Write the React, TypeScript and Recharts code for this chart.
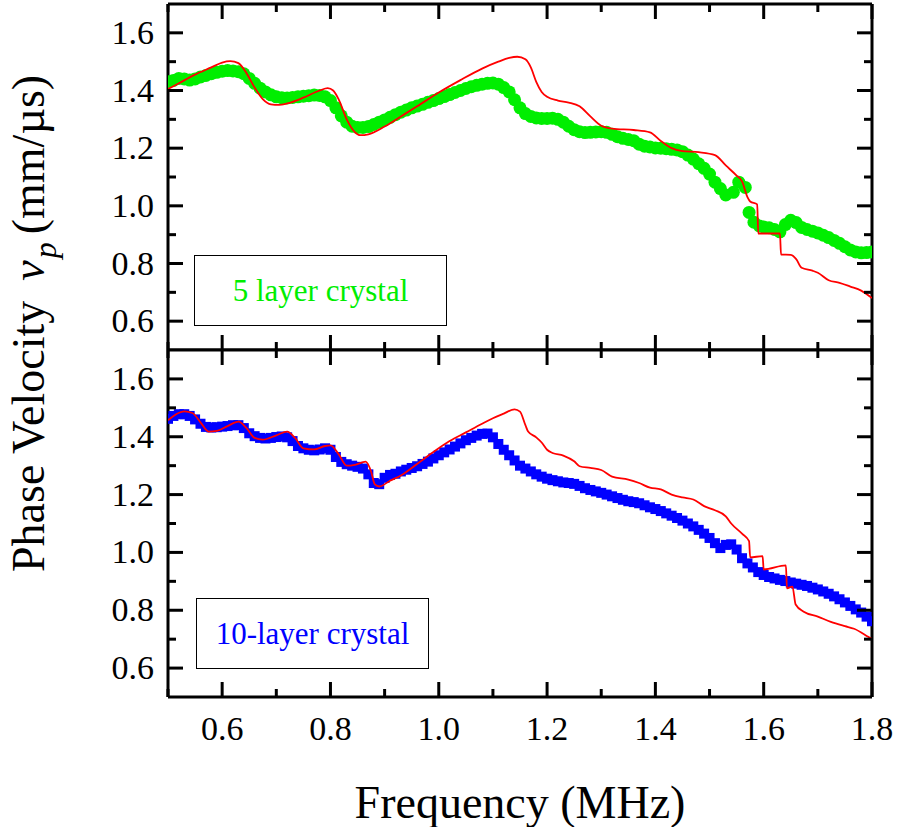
import React from 'react'
import { ComposedChart, Line, Scatter, XAxis, YAxis } from 'recharts'

const FONT = '"Liberation Serif", "Times New Roman", Times, serif'

// tick positions (every 0.1; even tenths are major and labelled)
const X_TICKS = [0.5, 0.6, 0.7, 0.8, 0.9, 1.0, 1.1, 1.2, 1.3, 1.4, 1.5, 1.6, 1.7, 1.8]
const Y_TICKS = [0.6, 0.7, 0.8, 0.9, 1.0, 1.1, 1.2, 1.3, 1.4, 1.5, 1.6]

// 5 layer crystal: measured [frequency MHz, phase velocity mm/us]
const measured5: [number, number][] = [
  [0.50, 1.430], [0.51, 1.435], [0.52, 1.442], [0.53, 1.440], [0.54, 1.436], [0.55, 1.440],
  [0.56, 1.447], [0.57, 1.452], [0.58, 1.458], [0.59, 1.463], [0.60, 1.467], [0.61, 1.469],
  [0.62, 1.468], [0.63, 1.465], [0.64, 1.458], [0.65, 1.442], [0.66, 1.425], [0.67, 1.408],
  [0.68, 1.395], [0.69, 1.385], [0.70, 1.378], [0.71, 1.375], [0.72, 1.374], [0.73, 1.376],
  [0.74, 1.378], [0.75, 1.380], [0.76, 1.382], [0.77, 1.384], [0.78, 1.383], [0.79, 1.378],
  [0.80, 1.365], [0.81, 1.340], [0.82, 1.312], [0.83, 1.290], [0.84, 1.276], [0.85, 1.272],
  [0.86, 1.272], [0.87, 1.275], [0.88, 1.282], [0.89, 1.290], [0.90, 1.298], [0.91, 1.307],
  [0.92, 1.316], [0.93, 1.325], [0.94, 1.332], [0.95, 1.340], [0.96, 1.346], [0.97, 1.352],
  [0.98, 1.359], [0.99, 1.365], [1.00, 1.372], [1.01, 1.379], [1.02, 1.386], [1.03, 1.393],
  [1.04, 1.400], [1.05, 1.407], [1.06, 1.413], [1.07, 1.418], [1.08, 1.422], [1.09, 1.425],
  [1.10, 1.426], [1.11, 1.422], [1.12, 1.410], [1.13, 1.395], [1.14, 1.368], [1.15, 1.340],
  [1.16, 1.320], [1.17, 1.310], [1.18, 1.305], [1.19, 1.303], [1.20, 1.303], [1.21, 1.304],
  [1.22, 1.300], [1.23, 1.290], [1.24, 1.276], [1.25, 1.264], [1.26, 1.257], [1.27, 1.254],
  [1.28, 1.255], [1.29, 1.256], [1.30, 1.257], [1.31, 1.255], [1.32, 1.248], [1.33, 1.240],
  [1.34, 1.234], [1.35, 1.230], [1.36, 1.226], [1.37, 1.214], [1.38, 1.207], [1.39, 1.204],
  [1.40, 1.201], [1.41, 1.200], [1.42, 1.198], [1.43, 1.196], [1.44, 1.194], [1.45, 1.188],
  [1.46, 1.176], [1.47, 1.162], [1.48, 1.146], [1.49, 1.130], [1.50, 1.110], [1.51, 1.082],
  [1.52, 1.060], [1.53, 1.038], [1.544, 1.047], [1.554, 1.082], [1.566, 1.064], [1.573, 0.977],
  [1.582, 0.943], [1.592, 0.930], [1.60, 0.927], [1.61, 0.924], [1.62, 0.918], [1.63, 0.910],
  [1.64, 0.935], [1.65, 0.950], [1.66, 0.942], [1.67, 0.925], [1.68, 0.918], [1.69, 0.912],
  [1.70, 0.906], [1.71, 0.898], [1.72, 0.890], [1.73, 0.880], [1.74, 0.870], [1.75, 0.858],
  [1.76, 0.847], [1.77, 0.840], [1.78, 0.837], [1.79, 0.838], [1.80, 0.840],
]

// 5 layer crystal: model curve
const model5: [number, number][] = [
  [0.50, 1.405], [0.52, 1.425], [0.55, 1.455], [0.58, 1.480], [0.60, 1.497], [0.615, 1.502],
  [0.63, 1.495], [0.645, 1.460], [0.66, 1.410], [0.675, 1.370], [0.69, 1.352], [0.705, 1.350],
  [0.72, 1.355], [0.75, 1.375], [0.78, 1.400], [0.795, 1.408], [0.805, 1.400], [0.815, 1.370],
  [0.83, 1.300], [0.845, 1.256], [0.855, 1.245], [0.87, 1.248], [0.90, 1.275], [0.93, 1.310],
  [0.96, 1.345], [1.00, 1.393], [1.04, 1.436], [1.08, 1.476], [1.11, 1.500], [1.13, 1.513],
  [1.145, 1.517], [1.16, 1.508], [1.17, 1.480], [1.18, 1.430], [1.19, 1.395], [1.20, 1.378],
  [1.22, 1.365], [1.24, 1.358], [1.26, 1.345], [1.28, 1.310], [1.30, 1.278], [1.32, 1.268],
  [1.36, 1.263], [1.39, 1.255], [1.41, 1.225], [1.43, 1.200], [1.45, 1.190], [1.48, 1.186],
  [1.51, 1.176], [1.53, 1.140], [1.55, 1.105], [1.56, 1.085], [1.57, 1.030], [1.575, 1.015],
  [1.588, 1.005], [1.590, 0.904], [1.630, 0.904], [1.632, 0.831], [1.650, 0.830], [1.660, 0.815],
  [1.670, 0.785], [1.69, 0.775], [1.70, 0.768], [1.72, 0.742], [1.74, 0.733], [1.76, 0.720],
  [1.78, 0.706], [1.80, 0.680],
]

// 10-layer crystal: measured
const measured10: [number, number][] = [
  [0.50, 1.462], [0.51, 1.472], [0.52, 1.478], [0.53, 1.478], [0.54, 1.472], [0.55, 1.460],
  [0.56, 1.445], [0.57, 1.434], [0.58, 1.432], [0.59, 1.433], [0.60, 1.435], [0.61, 1.437],
  [0.62, 1.440], [0.63, 1.440], [0.64, 1.430], [0.65, 1.412], [0.66, 1.402], [0.67, 1.396],
  [0.68, 1.394], [0.69, 1.396], [0.70, 1.399], [0.71, 1.401], [0.72, 1.398], [0.73, 1.385],
  [0.74, 1.368], [0.75, 1.360], [0.76, 1.355], [0.77, 1.353], [0.78, 1.356], [0.79, 1.360],
  [0.80, 1.355], [0.81, 1.330], [0.82, 1.313], [0.83, 1.305], [0.84, 1.300], [0.85, 1.296],
  [0.86, 1.290], [0.87, 1.270], [0.88, 1.240], [0.89, 1.236], [0.90, 1.258], [0.91, 1.268],
  [0.92, 1.272], [0.93, 1.280], [0.94, 1.286], [0.95, 1.292], [0.96, 1.298], [0.97, 1.306],
  [0.98, 1.314], [0.99, 1.325], [1.00, 1.336], [1.01, 1.346], [1.02, 1.356], [1.03, 1.366],
  [1.04, 1.377], [1.05, 1.388], [1.06, 1.396], [1.07, 1.404], [1.08, 1.410], [1.09, 1.411],
  [1.10, 1.398], [1.11, 1.375], [1.12, 1.355], [1.13, 1.336], [1.14, 1.318], [1.15, 1.300],
  [1.16, 1.290], [1.17, 1.280], [1.18, 1.270], [1.19, 1.262], [1.20, 1.255], [1.21, 1.250],
  [1.22, 1.246], [1.23, 1.242], [1.24, 1.240], [1.25, 1.237], [1.26, 1.230], [1.27, 1.222],
  [1.28, 1.216], [1.29, 1.211], [1.30, 1.206], [1.31, 1.200], [1.32, 1.194], [1.33, 1.188],
  [1.34, 1.182], [1.35, 1.177], [1.36, 1.174], [1.37, 1.170], [1.38, 1.163], [1.39, 1.156],
  [1.40, 1.150], [1.41, 1.143], [1.42, 1.135], [1.43, 1.127], [1.44, 1.119], [1.45, 1.110],
  [1.46, 1.100], [1.47, 1.090], [1.48, 1.078], [1.49, 1.065], [1.50, 1.050], [1.51, 1.032],
  [1.52, 1.015], [1.53, 1.026], [1.54, 1.028], [1.55, 1.010], [1.56, 0.980], [1.57, 0.962],
  [1.58, 0.948], [1.59, 0.932], [1.60, 0.922], [1.61, 0.915], [1.62, 0.910], [1.63, 0.905],
  [1.64, 0.901], [1.65, 0.896], [1.66, 0.892], [1.67, 0.888], [1.68, 0.884], [1.69, 0.878],
  [1.70, 0.872], [1.71, 0.865], [1.72, 0.857], [1.73, 0.848], [1.74, 0.838], [1.75, 0.827],
  [1.76, 0.815], [1.77, 0.803], [1.78, 0.792], [1.79, 0.778], [1.80, 0.762],
]

// 10-layer crystal: model curve
const model10: [number, number][] = [
  [0.50, 1.457], [0.515, 1.478], [0.53, 1.488], [0.545, 1.482], [0.56, 1.450], [0.575, 1.418],
  [0.59, 1.420], [0.61, 1.437], [0.63, 1.452], [0.645, 1.430], [0.66, 1.396], [0.675, 1.390],
  [0.70, 1.405], [0.72, 1.418], [0.735, 1.395], [0.75, 1.360], [0.77, 1.356], [0.79, 1.368],
  [0.80, 1.370], [0.815, 1.340], [0.83, 1.300], [0.845, 1.303], [0.865, 1.314], [0.875, 1.280],
  [0.882, 1.235], [0.89, 1.228], [0.91, 1.248], [0.93, 1.266], [0.96, 1.306], [0.99, 1.347],
  [1.02, 1.385], [1.05, 1.415], [1.08, 1.445], [1.10, 1.464], [1.12, 1.480], [1.14, 1.495],
  [1.15, 1.487], [1.16, 1.440], [1.165, 1.418], [1.18, 1.398], [1.19, 1.380], [1.20, 1.355],
  [1.21, 1.344], [1.23, 1.335], [1.25, 1.315], [1.26, 1.298], [1.28, 1.292], [1.30, 1.285],
  [1.32, 1.262], [1.35, 1.252], [1.37, 1.240], [1.39, 1.224], [1.41, 1.218], [1.43, 1.200],
  [1.45, 1.190], [1.47, 1.183], [1.49, 1.160], [1.51, 1.146], [1.53, 1.125], [1.54, 1.100],
  [1.56, 1.065], [1.573, 1.039], [1.575, 0.983], [1.598, 0.987], [1.600, 0.941], [1.641, 0.955],
  [1.643, 0.876], [1.653, 0.882], [1.659, 0.820], [1.674, 0.795], [1.70, 0.778], [1.724, 0.760],
  [1.75, 0.745], [1.767, 0.736], [1.793, 0.708], [1.80, 0.700],
]

const toRows = (pairs: [number, number][]) => pairs.map(([f, v]) => ({ f, v }))

const isMajor = (v: number) => Math.round(v * 10) % 2 === 0
const MAJOR = 15
const MINOR = 8
const AXIS = { stroke: '#000', strokeWidth: 3 }

// inward ticks for each side of the frame
const LeftTick = (p: any) => {
  const major = isMajor(p.payload.value)
  return (
    <g>
      <line x1={p.x} x2={p.x + (major ? MAJOR : MINOR)} y1={p.y} y2={p.y} stroke="#000" strokeWidth={3} />
      {major && (
        <text x={p.x - 14} y={p.y + 11} textAnchor="end" fontSize={34} fontFamily={FONT} fill="#000">
          {p.payload.value.toFixed(1)}
        </text>
      )}
    </g>
  )
}

const RightTick = (p: any) => {
  const major = isMajor(p.payload.value)
  return <line x1={p.x} x2={p.x - (major ? MAJOR : MINOR)} y1={p.y} y2={p.y} stroke="#000" strokeWidth={3} />
}

const TopTick = (p: any) => {
  const major = isMajor(p.payload.value)
  return <line x1={p.x} x2={p.x} y1={p.y} y2={p.y + (major ? MAJOR : MINOR)} stroke="#000" strokeWidth={3} />
}

const BottomTick = (p: any) => {
  const major = isMajor(p.payload.value)
  return (
    <g>
      <line x1={p.x} x2={p.x} y1={p.y} y2={p.y - (major ? MAJOR : MINOR)} stroke="#000" strokeWidth={3} />
      {p.labels && major && (
        <text x={p.x} y={p.y + 43} textAnchor="middle" fontSize={34} fontFamily={FONT} fill="#000">
          {p.payload.value.toFixed(1)}
        </text>
      )}
    </g>
  )
}

const Dot = (p: any) => <circle cx={p.cx} cy={p.cy} r={6.5} fill="#00ee00" />
const Square = (p: any) => <rect x={p.cx - 5} y={p.cy - 5} width={10} height={10} fill="#0000ff" />

// one panel: plot area spans x 168..872, 1px top axis strip, bottom axis strip of bottomHeight
function Panel({ measured, model, shape, height, bottomHeight, labels }: any) {
  return (
    <ComposedChart width={899} height={height} margin={{ top: 3, right: 26, bottom: 0, left: 0 }}>
      <XAxis
        dataKey="f" type="number" domain={[0.5, 1.8]} ticks={X_TICKS} interval={0}
        allowDataOverflow height={bottomHeight} axisLine={AXIS} tickLine={false}
        tickSize={0} tickMargin={0}
        tick={(p: any) => <BottomTick {...p} labels={labels} />}
        label={labels ? { value: 'Frequency (MHz)', position: 'insideBottom', offset: 9, fontSize: 46, fontFamily: FONT, fill: '#000' } : undefined}
      />
      <XAxis
        xAxisId="top" orientation="top" dataKey="f" type="number" domain={[0.5, 1.8]}
        ticks={X_TICKS} interval={0} allowDataOverflow height={1} axisLine={AXIS}
        tickLine={false} tickSize={0} tickMargin={0} tick={(p: any) => <TopTick {...p} />}
      />
      <YAxis
        type="number" domain={[0.5, 1.7]} ticks={Y_TICKS} interval={0} allowDataOverflow
        width={168} axisLine={AXIS} tickLine={false} tickSize={0} tickMargin={0}
        tick={(p: any) => <LeftTick {...p} />}
      />
      <YAxis
        yAxisId="right" orientation="right" type="number" domain={[0.5, 1.7]} ticks={Y_TICKS}
        interval={0} allowDataOverflow width={1} axisLine={AXIS} tickLine={false}
        tickSize={0} tickMargin={0} tick={(p: any) => <RightTick {...p} />}
      />
      <Scatter data={toRows(measured)} dataKey="v" shape={shape} isAnimationActive={false} />
      {/* model curve sits above the measured markers */}
      <Line
        data={toRows(model)} dataKey="v" type="monotone" stroke="#ff0000" strokeWidth={1.8}
        dot={false} activeDot={false} isAnimationActive={false} zIndex={700}
      />
    </ComposedChart>
  )
}

const boxStyle = (left: number, top: number, width: number, color: string): React.CSSProperties => ({
  position: 'absolute', left, top, width, height: 71, boxSizing: 'border-box',
  border: '1.5px solid #000', background: '#fff', display: 'flex', alignItems: 'center',
  justifyContent: 'center', fontFamily: FONT, fontSize: 31, color,
})

export default function App() {
  return (
    <div style={{ position: 'absolute', left: 0, top: 0, width: 899, height: 827, background: '#fff' }}>
      <div style={{ position: 'absolute', left: 0, top: 0 }}>
        <Panel measured={measured5} model={model5} shape={Dot} height={351} bottomHeight={1} labels={false} />
      </div>
      <div style={{ position: 'absolute', left: 0, top: 346 }}>
        <Panel measured={measured10} model={model10} shape={Square} height={481} bottomHeight={130} labels />
      </div>
      <div style={boxStyle(194, 255, 253, '#00ee00')}>5 layer crystal</div>
      <div style={boxStyle(196, 598, 233, '#0000ff')}>10-layer crystal</div>
      <svg width={899} height={827} style={{ position: 'absolute', left: 0, top: 0, pointerEvents: 'none' }}>
        <text x={44} y={572} transform="rotate(-90 44 572)" fontSize={46} fontFamily={FONT} fill="#000">
          Phase Velocity
          <tspan dx={20} fontStyle="italic">v</tspan>
          <tspan dx={2} dy={12} fontStyle="italic" fontSize={32}>p</tspan>
          <tspan dx={8} dy={-12}>(mm/µs)</tspan>
        </text>
      </svg>
    </div>
  )
}
